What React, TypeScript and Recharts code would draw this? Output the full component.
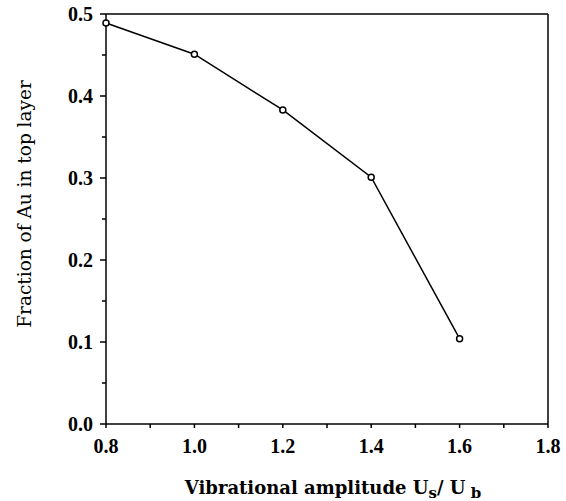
import React from 'react';
import { LineChart, Line, XAxis, YAxis, ReferenceLine } from 'recharts';

const amplitude = [0.8, 1.0, 1.2, 1.4, 1.6];
const fractionAu = [0.489, 0.451, 0.383, 0.301, 0.104];
const xTicks = [0.8, 0.9, 1.0, 1.1, 1.2, 1.3, 1.4, 1.5, 1.6, 1.7, 1.8];
const yTicks = [0, 0.05, 0.1, 0.15, 0.2, 0.25, 0.3, 0.35, 0.4, 0.45, 0.5];

const data = amplitude.map((a, i) => ({ a, f: fractionAu[i] }));

const FONT = '"Liberation Serif", "Times New Roman", serif';
const TITLE_FONT = '"DejaVu Serif", serif';

const XTick = ({ x, y, payload, index }: any) => {
    const major = index % 2 === 0;
    return (
        <g>
            <line x1={x} y1={y} x2={x} y2={y + 4} stroke="#000" strokeWidth={1.5} />
            {major && (
                <text x={x} y={y + 29} textAnchor="middle" fontFamily={FONT} fontWeight="bold" fontSize={20} fill="#000">
                    {payload.value.toFixed(1)}
                </text>
            )}
        </g>
    );
};

const YTick = ({ x, y, payload, index }: any) => {
    const major = index % 2 === 0;
    return (
        <g>
            <line x1={x} y1={y} x2={x - (major ? 6 : 4)} y2={y} stroke="#000" strokeWidth={1.5} />
            {major && (
                <text x={x - 13} y={y + 7} textAnchor="end" fontFamily={FONT} fontWeight="bold" fontSize={20} fill="#000">
                    {payload.value.toFixed(1)}
                </text>
            )}
        </g>
    );
};

const XTitle = ({ viewBox }: any) => {
    const cx = viewBox.x + viewBox.width / 2 + 6;
    return (
        <text x={cx} y={viewBox.y + 70} textAnchor="middle" fontFamily={TITLE_FONT} fontWeight="bold" fontSize={18} fill="#000">
            Vibrational amplitude U
            <tspan fontSize={15} dy={4}>s</tspan>
            <tspan dy={-4}>/ U</tspan>
            <tspan fontSize={15} dy={4}> b</tspan>
        </text>
    );
};

const YTitle = ({ viewBox }: any) => {
    const cy = viewBox.y + viewBox.height / 2 - 15;
    const x = 31;
    return (
        <text x={x} y={cy} transform={`rotate(-90 ${x} ${cy})`} textAnchor="middle" fontFamily={TITLE_FONT} fontSize={18.5} fill="#000">
            Fraction of Au in top layer
        </text>
    );
};

export default function App() {
    return (
        <div style={{ position: 'absolute', left: 0, top: 0, background: '#fff' }}>
            <LineChart width={566} height={501} data={data} margin={{ top: 14, right: 18, left: 0, bottom: 0 }}>
                <XAxis
                    dataKey="a"
                    type="number"
                    domain={[0.8, 1.8]}
                    ticks={xTicks}
                    interval={0}
                    height={77}
                    tickSize={0}
                    tickMargin={0}
                    tickLine={false}
                    axisLine={{ stroke: '#000', strokeWidth: 1.5 }}
                    tick={<XTick />}
                    label={{ content: <XTitle /> }}
                />
                <YAxis
                    type="number"
                    domain={[0, 0.5]}
                    ticks={yTicks}
                    interval={0}
                    width={106}
                    tickSize={0}
                    tickMargin={0}
                    tickLine={false}
                    axisLine={{ stroke: '#000', strokeWidth: 1.5 }}
                    tick={<YTick />}
                    label={{ content: <YTitle /> }}
                />
                <ReferenceLine y={0.5} stroke="#000" strokeWidth={1.5} />
                <ReferenceLine x={1.8} stroke="#000" strokeWidth={1.5} />
                <Line
                    dataKey="f"
                    type="linear"
                    stroke="#000"
                    strokeWidth={1.5}
                    dot={{ r: 3, stroke: '#000', strokeWidth: 1.5, fill: '#fff' }}
                    isAnimationActive={false}
                />
            </LineChart>
        </div>
    );
}
